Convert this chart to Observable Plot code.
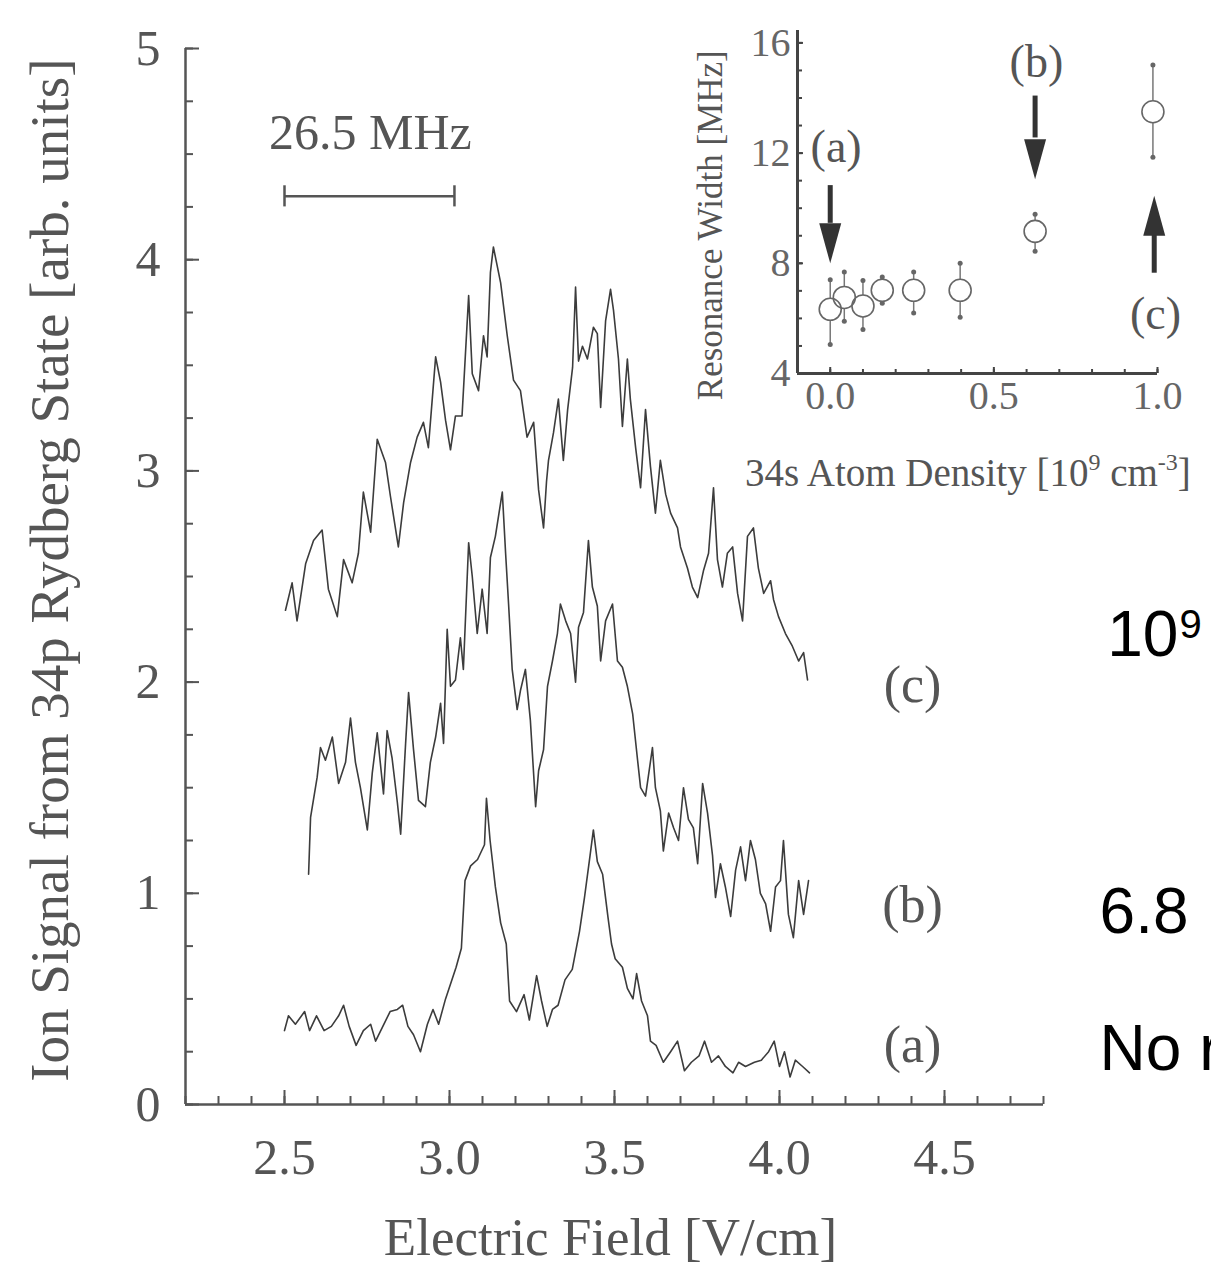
<!DOCTYPE html>
<html><head><meta charset="utf-8">
<script src="https://cdn.jsdelivr.net/npm/d3@7"></script>
<script src="https://cdn.jsdelivr.net/npm/@observablehq/plot@0.6"></script>
<style>
body{margin:0;background:#fff;}
#wrap{position:relative;width:1211px;height:1266px;overflow:hidden;background:#fff;}
#wrap svg{position:absolute;left:0;top:0;}
</style></head><body><div id="wrap"></div>
<script>
// ---- main panel: ion signal traces ----
const cField = [2.503,2.523,2.538,2.564,2.588,2.614,2.633,2.660,2.679,2.705,
2.724,2.739,2.761,2.781,2.806,2.821,2.845,2.861,2.882,2.902,
2.921,2.936,2.958,2.973,2.988,3.003,3.018,3.038,3.058,3.069,
3.088,3.103,3.114,3.124,3.133,3.155,3.175,3.194,3.215,3.235,
3.255,3.270,3.285,3.294,3.300,3.315,3.330,3.345,3.358,3.373,
3.382,3.391,3.403,3.418,3.436,3.448,3.458,3.473,3.488,3.497,
3.512,3.524,3.539,3.548,3.564,3.579,3.594,3.609,3.624,3.639,
3.655,3.670,3.691,3.700,3.721,3.736,3.752,3.770,3.785,3.800,
3.812,3.827,3.842,3.858,3.873,3.888,3.903,3.921,3.936,3.952,
3.973,3.982,3.997,4.018,4.039,4.058,4.073,4.085];
const cSignal = [2.34,2.47,2.29,2.56,2.67,2.72,2.44,2.31,2.58,2.47,
2.61,2.90,2.71,3.15,3.04,2.88,2.64,2.85,3.04,3.16,
3.23,3.11,3.54,3.42,3.24,3.10,3.26,3.26,3.83,3.46,
3.38,3.64,3.54,3.94,4.06,3.89,3.64,3.43,3.38,3.16,
3.23,2.91,2.73,2.95,3.05,3.18,3.34,3.05,3.29,3.49,
3.87,3.52,3.59,3.53,3.68,3.65,3.30,3.71,3.86,3.76,
3.53,3.21,3.53,3.34,3.11,2.92,3.29,3.02,2.80,3.05,
2.89,2.80,2.73,2.64,2.54,2.45,2.40,2.53,2.61,2.92,
2.58,2.45,2.61,2.64,2.42,2.29,2.69,2.73,2.54,2.42,
2.48,2.39,2.31,2.23,2.17,2.10,2.14,2.01];

const bField = [2.573,2.579,2.599,2.609,2.624,2.645,2.664,2.685,2.700,2.715,
2.730,2.751,2.766,2.781,2.800,2.811,2.826,2.842,2.852,2.867,
2.876,2.891,2.906,2.927,2.942,2.958,2.973,2.982,2.993,3.003,
3.018,3.033,3.042,3.058,3.069,3.084,3.099,3.114,3.124,3.139,
3.160,3.170,3.179,3.190,3.205,3.215,3.230,3.245,3.261,3.270,
3.285,3.297,3.312,3.327,3.336,3.352,3.367,3.382,3.391,3.406,
3.421,3.433,3.448,3.458,3.473,3.494,3.509,3.524,3.539,3.555,
3.570,3.579,3.594,3.615,3.624,3.639,3.648,3.664,3.679,3.694,
3.709,3.724,3.739,3.752,3.767,3.782,3.797,3.806,3.821,3.836,
3.852,3.867,3.882,3.897,3.912,3.927,3.942,3.958,3.973,3.988,
4.003,4.012,4.027,4.042,4.058,4.073,4.088];
const bSignal = [1.09,1.36,1.55,1.69,1.63,1.74,1.52,1.62,1.83,1.62,
1.50,1.30,1.57,1.76,1.47,1.77,1.64,1.43,1.28,1.71,
1.95,1.68,1.44,1.41,1.62,1.74,1.90,1.71,2.25,1.98,
2.01,2.21,2.06,2.66,2.50,2.23,2.44,2.23,2.59,2.69,
2.90,2.61,2.37,2.06,1.87,1.96,2.06,1.82,1.41,1.58,
1.68,1.98,2.10,2.23,2.37,2.29,2.23,2.00,2.26,2.33,
2.67,2.45,2.36,2.10,2.29,2.37,2.10,2.07,1.98,1.85,
1.63,1.50,1.46,1.69,1.50,1.39,1.20,1.38,1.31,1.25,
1.50,1.35,1.31,1.14,1.52,1.38,1.18,0.98,1.14,1.03,
0.89,1.11,1.22,1.06,1.25,1.16,1.00,0.95,0.82,1.03,
1.06,1.25,0.90,0.79,1.06,0.90,1.06];

const aField = [2.500,2.512,2.533,2.561,2.576,2.597,2.620,2.642,2.664,2.679,
2.696,2.717,2.739,2.761,2.776,2.798,2.820,2.842,2.858,2.874,
2.891,2.912,2.933,2.950,2.967,2.988,3.020,3.036,3.047,3.064,
3.085,3.106,3.112,3.123,3.139,3.155,3.172,3.182,3.203,3.226,
3.242,3.264,3.279,3.296,3.312,3.329,3.350,3.372,3.394,3.409,
3.426,3.436,3.448,3.464,3.480,3.491,3.502,3.524,3.539,3.556,
3.567,3.582,3.600,3.609,3.626,3.648,3.670,3.691,3.712,3.733,
3.756,3.773,3.794,3.815,3.836,3.859,3.876,3.897,3.924,3.945,
3.967,3.984,4.000,4.015,4.032,4.048,4.070,4.091];
const aSignal = [0.35,0.42,0.38,0.44,0.35,0.42,0.35,0.37,0.42,0.47,
0.37,0.28,0.35,0.38,0.30,0.37,0.44,0.45,0.47,0.37,
0.33,0.25,0.38,0.45,0.38,0.50,0.65,0.74,1.06,1.13,
1.16,1.23,1.45,1.25,1.03,0.86,0.76,0.49,0.44,0.52,
0.40,0.61,0.49,0.37,0.45,0.47,0.59,0.64,0.82,0.98,
1.18,1.30,1.15,1.09,0.89,0.76,0.69,0.65,0.55,0.50,
0.62,0.49,0.42,0.30,0.28,0.20,0.25,0.30,0.16,0.20,
0.23,0.30,0.20,0.23,0.18,0.15,0.20,0.18,0.20,0.21,
0.25,0.30,0.18,0.25,0.13,0.21,0.18,0.15];

const traceLabels = ["(a)", "(b)", "(c)"];
const densityLabels = ["No r", "6.8"];
const xMajorTicks = [2.5, 3.0, 3.5, 4.0, 4.5];
const yMajorTicks = [0, 1, 2, 3, 4, 5];
const scaleBarField = [2.5, 3.015];
const scaleBarText = "26.5 MHz";

// ---- inset: resonance width vs density ----
const density  = [0.0, 0.043, 0.10, 0.159, 0.255, 0.397, 0.626, 0.986];
const resWidth = [6.33, 6.76, 6.45, 7.02, 7.02, 7.02, 9.16, 13.5];
const widthLo  = [5.05, 5.90, 5.60, 6.55, 6.20, 6.04, 8.44, 11.85];
const widthHi  = [7.40, 7.68, 7.38, 7.50, 7.68, 8.00, 9.78, 15.20];
const arrowLabels = ["(a)", "(b)", "(c)"];
const arrowDensity = [0.0, 0.626, 0.99];
const arrowTail = [10.82, 14.07, 7.64];
const arrowHeadBase = [9.45, 12.55, 9.09];
const arrowTip = [8.0, 11.05, 10.45];

const rows = [
  ...aField.map((x, i) => ({trace: "a", field: x, signal: aSignal[i]})),
  ...bField.map((x, i) => ({trace: "b", field: x, signal: bSignal[i]})),
  ...cField.map((x, i) => ({trace: "c", field: x, signal: cSignal[i]}))
];
const pts = density.map((d, i) => ({density: d, width: resWidth[i], lo: widthLo[i], hi: widthHi[i]}));
const arrows = arrowDensity.map((d, i) => ({density: d, tail: arrowTail[i], base: arrowHeadBase[i], tip: arrowTip[i], up: arrowTip[i] > arrowTail[i]}));

const serif = "'Liberation Serif','Times New Roman',serif";
const sans = "'Liberation Sans',Arial,sans-serif";
const ink = "#555";

const main = Plot.plot({
  width: 1211, height: 1266,
  marginLeft: 185, marginRight: 168, marginTop: 48, marginBottom: 162,
  style: {fontFamily: serif, background: "transparent", overflow: "visible", color: ink},
  x: {domain: [2.2, 4.8]},
  y: {domain: [0, 5]},
  marks: [
    Plot.axisX({ticks: d3.range(22, 49).map(d => d / 10), tickSize: -8, tickFormat: () => "", stroke: ink, strokeWidth: 2, label: null}),
    Plot.axisX({ticks: xMajorTicks, tickSize: -14, tickPadding: 48, tickFormat: d => d.toFixed(1), fontSize: 50, fill: ink, stroke: ink, strokeWidth: 2, label: null}),
    Plot.axisY({ticks: d3.range(0, 21).map(d => d / 4), tickSize: -8, tickFormat: () => "", stroke: ink, strokeWidth: 2, label: null}),
    Plot.axisY({ticks: yMajorTicks, tickSize: -14, tickPadding: 39, tickFormat: d => String(d), fontSize: 50, fill: ink, stroke: ink, strokeWidth: 2, label: null}),
    Plot.ruleY([0], {stroke: ink, strokeWidth: 2.5}),
    Plot.ruleX([2.2], {stroke: ink, strokeWidth: 2.5}),
    Plot.line(rows, {x: "field", y: "signal", z: "trace", stroke: "#3c3c3c", strokeWidth: 1.6}),
    // scale bar
    Plot.ruleY([4.3], {x1: scaleBarField[0], x2: scaleBarField[1], stroke: ink, strokeWidth: 2.5}),
    Plot.ruleX(scaleBarField, {y1: 4.25, y2: 4.35, stroke: ink, strokeWidth: 2.5}),
    Plot.text([scaleBarText], {x: 2.76, y: 4.6, fontSize: 50, fill: ink, textAnchor: "middle", lineAnchor: "middle"}),
    // trace labels
    Plot.text(traceLabels, {x: 4.403, y: [0.28, 0.943, 1.985], text: d => d, fontSize: 52, fill: ink, lineAnchor: "middle"}),
    // density labels at the right edge
    Plot.text(densityLabels, {x: 4.97, y: [0.26, 0.91], text: d => d, fontFamily: sans, fontSize: 64, fill: "#000", textAnchor: "start", lineAnchor: "middle"}),
    Plot.text(["10"], {x: 4.993, y: 2.22, fontFamily: sans, fontSize: 64, fill: "#000", textAnchor: "start", lineAnchor: "middle"}),
    Plot.text(["9"], {x: 5.212, y: 2.27, fontFamily: sans, fontSize: 40, fill: "#000", textAnchor: "start", lineAnchor: "middle"}),
    // axis titles
    Plot.text(["Electric Field [V/cm]"], {frameAnchor: "bottom", dy: 134, dx: -4, fontSize: 53, fill: ink, lineAnchor: "middle"}),
    Plot.text(["Ion Signal from 34p Rydberg State [arb. units]"], {x: 1.79, y: 2.53, rotate: -90, fontSize: 55, fill: ink, lineAnchor: "middle"})
  ]
});

const arrowHead = {
  draw(context, size) {
    const r = Math.sqrt(size / Math.PI);
    context.moveTo(0, 0);
    context.lineTo(-0.55 * r, -2 * r);
    context.lineTo(0.55 * r, -2 * r);
    context.closePath();
  }
};

const inset = Plot.plot({
  width: 1211, height: 520,
  marginLeft: 797, marginRight: 54, marginTop: 30, marginBottom: 147,
  style: {fontFamily: serif, background: "transparent", overflow: "visible", color: ink},
  x: {domain: [-0.1, 1.0]},
  y: {domain: [4, 16.45]},
  marks: [
    Plot.axisY({ticks: d3.range(4, 17), tickSize: -5, tickFormat: () => "", stroke: "#444", strokeWidth: 2, label: null}),
    Plot.axisY({ticks: [4, 8, 12, 16], tickSize: -6, tickPadding: 13, fontSize: 40, fill: "#666", stroke: "#444", strokeWidth: 2, label: null}),
    Plot.axisX({ticks: d3.range(0, 11).map(d => d / 10), tickSize: -4, tickFormat: () => "", stroke: "#444", strokeWidth: 2, label: null}),
    Plot.axisX({ticks: [0, 0.5, 1.0], tickSize: -6, tickPadding: 13, tickFormat: d => d.toFixed(1), fontSize: 40, fill: "#666", stroke: "#444", strokeWidth: 2, label: null}),
    Plot.ruleX([-0.1], {stroke: "#444", strokeWidth: 3}),
    Plot.ruleY([4], {stroke: "#444", strokeWidth: 3}),
    // error bars
    Plot.ruleX(pts, {x: "density", y1: "lo", y2: "hi", stroke: "#777", strokeWidth: 1.5}),
    Plot.dot(pts, {x: "density", y: "lo", r: 2.5, fill: "#666"}),
    Plot.dot(pts, {x: "density", y: "hi", r: 2.5, fill: "#666"}),
    Plot.dot(pts, {x: "density", y: "width", r: 11, fill: "white"}),
    Plot.dot(pts, {x: "density", y: "width", r: 11, stroke: "#666", strokeWidth: 1.6}),
    // arrows
    Plot.ruleX(arrows, {x: "density", y1: "tail", y2: "base", stroke: "#333", strokeWidth: 5}),
    Plot.dot(arrows, {x: "density", y: "tip", symbol: arrowHead, r: 20, fill: "#333", stroke: "none", rotate: d => d.up ? 180 : 0}),
    Plot.text(arrowLabels, {x: [0.018, 0.63, 0.994], y: [12.2, 15.3, 6.15], text: d => d, fontSize: 46, fill: ink, lineAnchor: "middle"}),
    Plot.text(["Resonance Width [MHz]"], {x: -0.364, y: 9.38, rotate: -90, fontSize: 35, fill: ink, lineAnchor: "middle"})
  ]
});

const t = d3.select(inset).append("text")
  .attr("x", 745).attr("y", 486).attr("text-anchor", "start")
  .attr("font-size", 39).attr("fill", ink).attr("font-family", serif);
t.append("tspan").text("34s Atom Density [10");
t.append("tspan").attr("dy", -16).attr("font-size", 24).text("9");
t.append("tspan").attr("dy", 16).text(" cm");
t.append("tspan").attr("dy", -16).attr("font-size", 24).text("-3");
t.append("tspan").attr("dy", 16).text("]");

const wrap = document.getElementById("wrap");
wrap.appendChild(main);
wrap.appendChild(inset);
</script></body></html>
